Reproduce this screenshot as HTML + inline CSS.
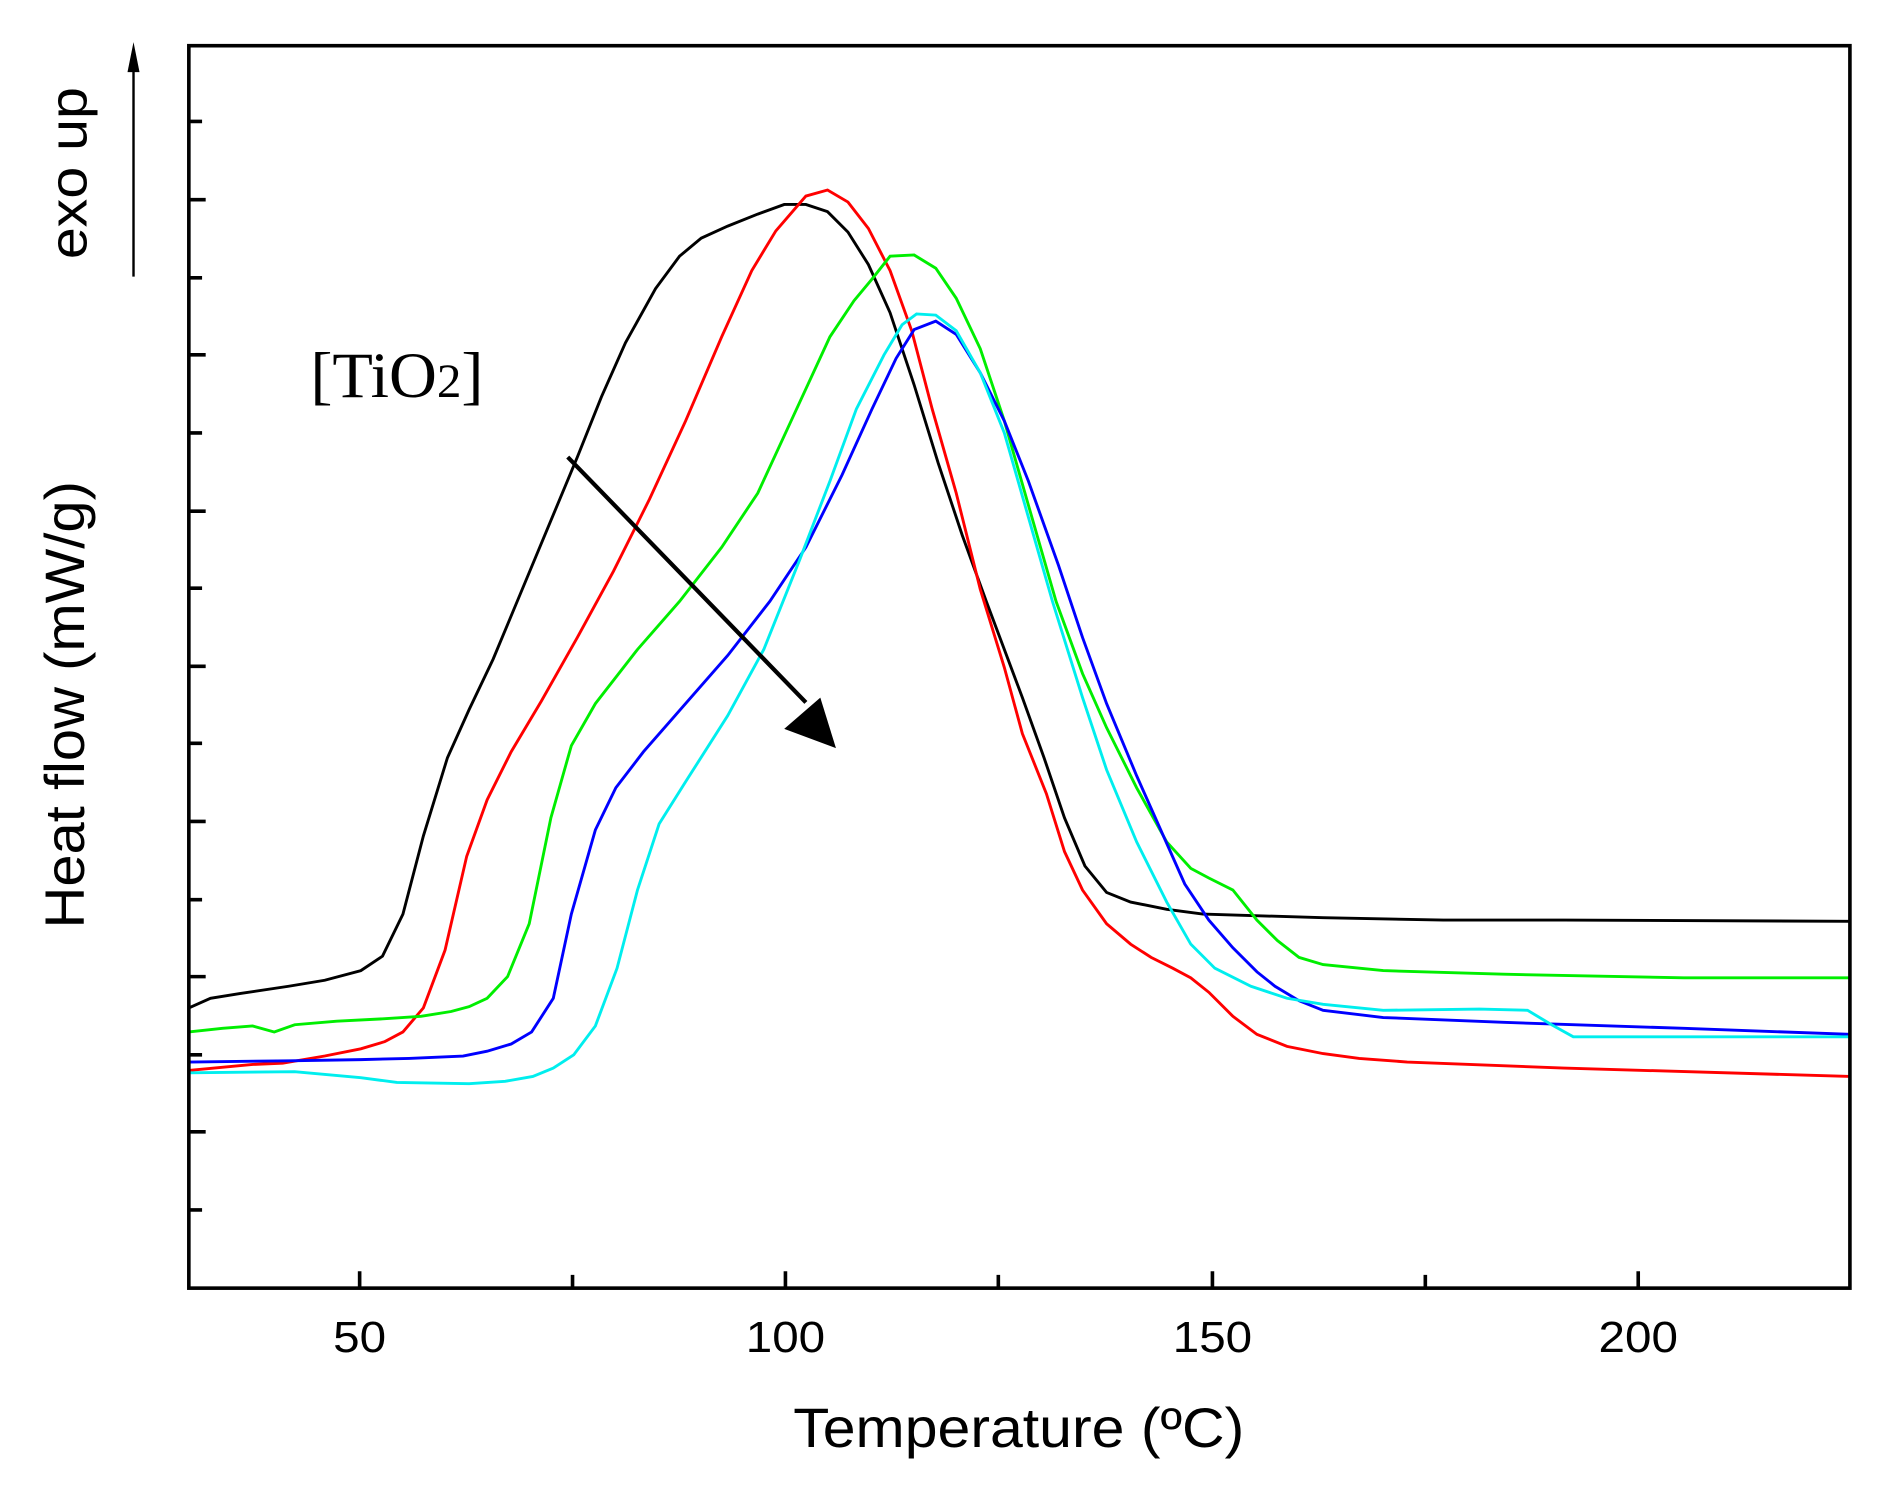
<!DOCTYPE html>
<html><head><style>html,body{margin:0;padding:0;background:#fff}svg{display:block}</style></head><body>
<svg width="1886" height="1489" viewBox="0 0 1568 1238" preserveAspectRatio="none" xmlns="http://www.w3.org/2000/svg">
<rect x="0" y="0" width="1568" height="1238" fill="#fff"/>
<g fill="none" stroke-width="2.4">
<polyline stroke="#000" points="157,838 175,830 200,826 240,820 270,815 300,807 318,795 335,760 352,695 372,630 390,590 410,548 430,500 455,440 480,380 500,330 520,285 545,240 565,213 583,198 605,188 630,178 652,170 670,170 688,176 705,193 722,220 740,260 760,320 780,385 800,445 820,500 850,580 868,630 885,680 902,720 920,742 940,750 970,756 1000,760 1100,763 1200,765 1300,765 1538,766"/>
<polyline stroke="#f00" points="157,890 210,885 235,884 270,878 300,872 320,866 335,858 352,838 370,790 388,712 405,665 425,625 450,583 480,530 510,475 540,415 570,350 600,280 625,225 645,192 670,163 688,158 705,168 722,190 740,225 758,275 775,340 795,410 815,490 835,555 850,610 870,660 885,708 900,740 920,768 940,785 957,796 975,805 990,813 1005,825 1025,845 1045,860 1070,870 1100,876 1130,880 1170,883 1300,888 1538,895"/>
<polyline stroke="#0e0" points="157,858 185,855 210,853 228,858 245,852 280,849 320,847 350,845 375,841 390,837 405,830 422,812 440,768 458,680 475,620 495,585 530,540 565,500 600,455 630,410 660,345 690,280 710,250 725,232 740,213 760,212 778,223 795,248 815,290 835,350 855,420 878,500 900,560 920,605 945,655 970,700 990,722 1005,730 1025,740 1045,765 1062,782 1080,796 1100,802 1150,807 1250,810 1400,813 1538,813"/>
<polyline stroke="#00f" points="157,883 240,882 300,881 340,880 385,878 405,874 425,868 442,858 460,830 475,760 495,690 512,655 535,625 570,585 605,545 640,500 670,455 700,395 725,340 745,298 760,274 778,267 795,278 815,310 835,350 855,400 880,470 900,530 920,585 945,645 965,690 985,735 1005,765 1025,788 1045,808 1060,820 1080,832 1100,840 1150,846 1250,850 1400,855 1538,860"/>
<polyline stroke="#0ee" points="157,892 245,891 300,896 330,900 390,901 420,899 443,895 460,888 477,877 495,853 513,805 530,740 548,685 570,650 605,595 635,540 665,465 690,400 712,340 735,295 750,270 762,261 778,262 795,275 815,310 835,360 855,430 875,500 900,580 920,640 945,700 970,750 990,785 1010,805 1040,820 1070,830 1100,835 1150,840 1230,839 1270,840 1290,852 1308,862 1400,862 1538,862"/>
</g>
<rect x="157" y="38" width="1381" height="1033" fill="none" stroke="#000" stroke-width="3"/>
<g stroke="#000" stroke-width="3">
<path d="M157,166h14M157,295h14M157,425h14M157,554h14M157,683h14M157,812h14M157,941h14"/>
<path d="M157,101h11M157,231h11M157,360h11M157,489h11M157,618h11M157,748h11M157,877h11M157,1006h11"/>
<path d="M299,1071v-14M653,1071v-14M1008,1071v-14M1362,1071v-14M476,1071v-11M830,1071v-11M1185,1071v-11"/>
<path d="M472,380L670,584" stroke-width="3.5"/>
<path d="M111,230V58" stroke-width="2"/>
</g>
<polygon points="695,622 652,606 682,580" fill="#000"/>
<polygon points="111,35 106,60 116,60" fill="#000"/>
<g font-family="Liberation Sans, sans-serif" fill="#000">
<text x="299" y="1124" font-size="36" text-anchor="middle" textLength="44" lengthAdjust="spacingAndGlyphs">50</text>
<text x="653" y="1124" font-size="36" text-anchor="middle" textLength="66" lengthAdjust="spacingAndGlyphs">100</text>
<text x="1008" y="1124" font-size="36" text-anchor="middle" textLength="66" lengthAdjust="spacingAndGlyphs">150</text>
<text x="1362" y="1124" font-size="36" text-anchor="middle" textLength="66" lengthAdjust="spacingAndGlyphs">200</text>
<text x="847" y="1203" font-size="46" text-anchor="middle" textLength="375" lengthAdjust="spacingAndGlyphs">Temperature (ºC)</text>
<text transform="translate(70,586) rotate(-90)" font-size="46" text-anchor="middle" textLength="372" lengthAdjust="spacingAndGlyphs">Heat flow (mW/g)</text>
<text transform="translate(72,144) rotate(-90)" font-size="44" text-anchor="middle" textLength="143" lengthAdjust="spacingAndGlyphs">exo up</text>
</g>
<text x="258" y="330" font-family="Liberation Serif, serif" font-size="54" textLength="144" lengthAdjust="spacingAndGlyphs">[TiO<tspan font-size="40">2</tspan>]</text>
</svg>
</body></html>
